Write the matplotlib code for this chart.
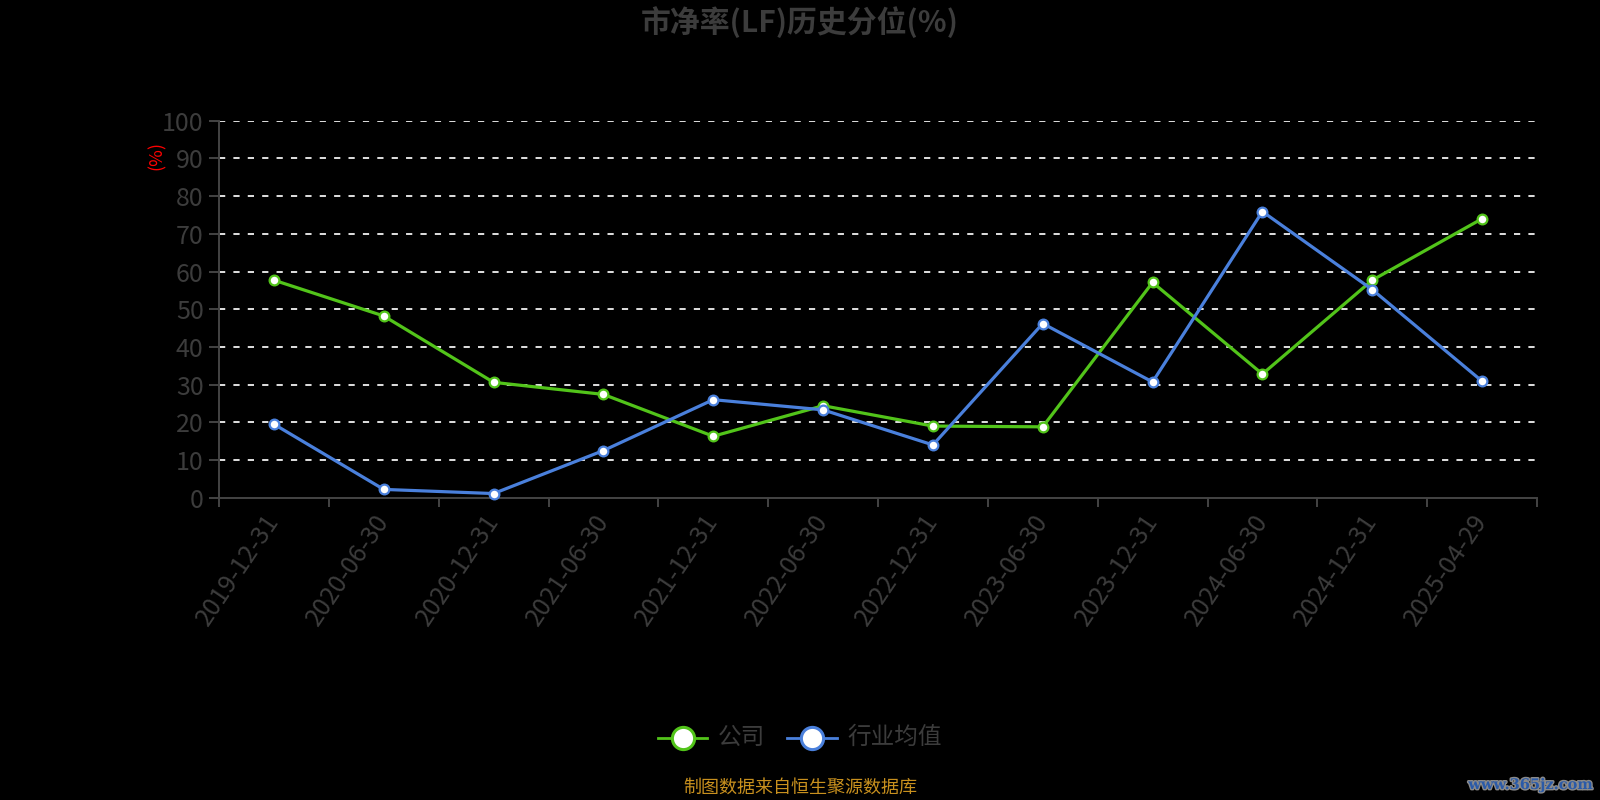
import matplotlib
matplotlib.use('Agg')
import matplotlib.pyplot as plt
import matplotlib.patheffects as pe
from matplotlib.lines import Line2D

plt.rcParams['font.family'] = ['Noto Sans CJK SC', 'DejaVu Sans']

# data
DATES = ['2019-12-31', '2020-06-30', '2020-12-31', '2021-06-30', '2021-12-31',
         '2022-06-30', '2022-12-31', '2023-06-30', '2023-12-31', '2024-06-30',
         '2024-12-31', '2025-04-29']
COMPANY = [57.7, 48.2, 30.6, 27.4, 16.3, 24.4, 19.0, 18.8, 57.1, 32.8, 57.7, 74.0]
INDUSTRY = [19.5, 2.2, 1.1, 12.5, 26.0, 23.3, 14.0, 46.2, 30.7, 75.9, 55.2, 30.9]
SERIES_NAMES = ['公司', '行业均值']
Y_TICKS = list(range(0, 101, 10))

GREEN = '#52c41a'
BLUE = '#4a80dc'
TEXT_GRAY = '#3c3c3c'
AXIS_GRAY = '#444444'


def main():
    fig = plt.figure(figsize=(16, 8), dpi=100, facecolor='black')
    ax = fig.add_axes([219 / 1600, 1 - 497.7 / 800, 1318 / 1600, 377 / 800])
    ax.set_facecolor('black')

    x = list(range(len(DATES)))
    for vals, color in ((COMPANY, GREEN), (INDUSTRY, BLUE)):
        ax.plot(x, vals, color=color, lw=2.3, marker='o', ms=7,
                mfc='white', mec=color, mew=1.6, zorder=3, clip_on=False)

    ax.set_xlim(-0.5, len(DATES) - 0.5)
    ax.set_ylim(0, 100)
    ax.set_yticks(Y_TICKS)
    ax.set_xticks(x)
    ax.set_xticks([i - 0.5 for i in range(len(DATES) + 1)], minor=True)
    ax.set_xticklabels(DATES, rotation=56, ha='right', va='center',
                       rotation_mode='anchor')

    ax.tick_params(axis='x', which='major', length=0, pad=14,
                   labelsize=18, labelcolor=TEXT_GRAY)
    ax.tick_params(axis='x', which='minor', length=6.5, width=1.4,
                   color=AXIS_GRAY)
    ax.tick_params(axis='y', length=7, width=1.4, color=AXIS_GRAY, pad=4,
                   labelsize=18, labelcolor=TEXT_GRAY)

    for side in ('top', 'right'):
        ax.spines[side].set_visible(False)
    for side in ('left', 'bottom'):
        ax.spines[side].set_color(AXIS_GRAY)
        ax.spines[side].set_linewidth(1.4)

    # dashed split lines
    for y in Y_TICKS[1:]:
        ax.axhline(y, color='#e0e0e0', lw=1.4, ls=(0, (3.2, 4.2)), zorder=1)

    ax.text(-0.047, 0.909, '(%)', transform=ax.transAxes, rotation=90,
            color='red', fontsize=13, ha='center', va='center')

    fig.text(0.5, 1 - 22.5 / 800, '市净率(LF)历史分位(%)', ha='center',
             va='center', fontsize=21.5, fontweight='bold', color=TEXT_GRAY)

    # legend drawn by hand
    legend_y = 1 - 737.7 / 800
    items = [(658, 707, 718, GREEN, SERIES_NAMES[0]),
             (787, 837, 847, BLUE, SERIES_NAMES[1])]
    for x0, x1, tx, color, name in items:
        fig.add_artist(Line2D([x0 / 1600, x1 / 1600], [legend_y, legend_y],
                              transform=fig.transFigure, color=color, lw=2))
        fig.add_artist(Line2D([(x0 + x1) / 2 / 1600], [legend_y],
                              transform=fig.transFigure, marker='o', ms=16,
                              mfc='white', mec=color, mew=2.2, ls='none'))
        fig.text(tx / 1600, legend_y, name, ha='left', va='center',
                 fontsize=17, color=TEXT_GRAY)

    fig.text(0.5, 1 - 788 / 800, '制图数据来自恒生聚源数据库', ha='center',
             va='center', fontsize=13, color='#c8901e')

    fig.text(1593 / 1600, 1 - 785 / 800, 'www.365jz.com', ha='right',
             va='center', fontsize=10.5, fontweight='bold', color='#2a5aa8',
             family='DejaVu Serif',
             path_effects=[pe.withStroke(linewidth=2, foreground='#8a8a8a')])

    fig.savefig('out.png', dpi=100, facecolor='black')
    plt.close(fig)


if __name__ == '__main__':
    main()
